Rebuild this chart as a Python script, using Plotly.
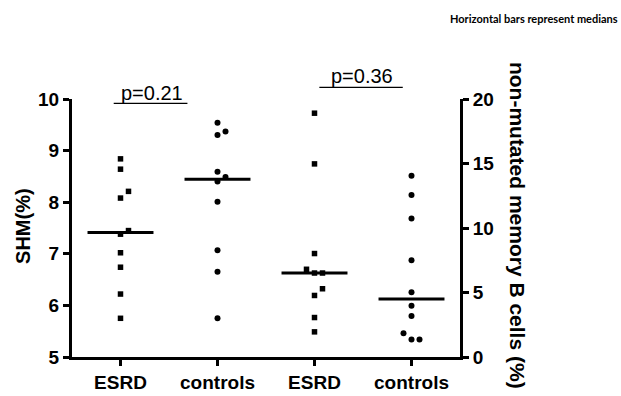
import numpy as np
import plotly.graph_objects as go

# ---------------- data ----------------
categories = ["ESRD", "controls", "ESRD", "controls"]

shm_esrd = [8.84, 8.64, 8.21, 8.08, 7.45, 7.38, 7.02, 6.74, 6.22, 5.75]
shm_controls = [9.54, 9.37, 9.30, 8.59, 8.49, 8.40, 8.01, 7.07, 6.65, 5.75]
nonmut_esrd = [18.9, 14.97, 8.02, 6.80, 6.51, 6.51, 5.29, 4.77, 3.06, 1.95]
nonmut_controls = [14.06, 12.55, 10.74, 7.50, 5.01, 3.97, 3.17, 1.84, 1.35, 1.35]

p_labels = ["p=0.21", "p=0.36"]
note_text = "Horizontal bars represent medians"
left_title = "SHM(%)"
right_title = "non-mutated memory B cells (%)"

# ---------------- layout constants ----------------
W, H = 621, 396
ML, MR, MT, MB = 72, 161, 99, 39
plot_w = W - ML - MR
plot_h = H - MT - MB
X_RANGE = [-0.5, 3.5]
Y1_RANGE = [5, 10]
Y2_RANGE = [0, 20]
FONT = "Liberation Sans"


def swarm(values, yspan):
    """Greedy beeswarm: offsets (in category units) so dots do not overlap."""
    px_x = plot_w / (X_RANGE[1] - X_RANGE[0])
    px_y = plot_h / yspan
    step, mind = 8.0, 7.0
    order = np.argsort(values)
    placed = []
    offs = np.zeros(len(values))
    for i in order:
        yi = values[i] * px_y
        for c in [0, step, -step, 2 * step, -2 * step]:
            ok = all((c - px) ** 2 + (yi - py) ** 2 >= mind ** 2 for px, py in placed)
            if ok:
                placed.append((c, yi))
                offs[i] = c / px_x
                break
    return offs


groups = [
    (0, shm_esrd, "square", "y", Y1_RANGE),
    (1, shm_controls, "circle", "y", Y1_RANGE),
    (2, nonmut_esrd, "square", "y2", Y2_RANGE),
    (3, nonmut_controls, "circle", "y2", Y2_RANGE),
]

fig = go.Figure()
for idx, vals, sym, yax, rng in groups:
    vals = np.array(vals, dtype=float)
    offs = swarm(vals, rng[1] - rng[0])
    fig.add_trace(go.Scatter(
        x=idx + offs, y=vals, mode="markers", yaxis=yax,
        marker=dict(symbol=sym, size=5.5 if sym == "square" else 6, color="black",
                    line=dict(width=0)),
        showlegend=False, hoverinfo="y", cliponaxis=False,
    ))
    med = float(np.median(vals))
    fig.add_trace(go.Scatter(
        x=[idx - 0.34, idx + 0.34], y=[med, med], mode="lines", yaxis=yax,
        line=dict(color="black", width=3), showlegend=False, hoverinfo="skip",
    ))


def xpaper(v):
    return (v - X_RANGE[0]) / (X_RANGE[1] - X_RANGE[0])


# p-value bars and labels
p_bars = [(-0.07, 0.69, 0.983, 1.024), (2.05, 2.91, 1.045, 1.090)]
for (a, b, ly, ty), lab in zip(p_bars, p_labels):
    fig.add_shape(type="line", xref="paper", yref="paper",
                  x0=xpaper(a), x1=xpaper(b), y0=ly, y1=ly,
                  line=dict(color="black", width=1.3))
    fig.add_annotation(x=(a + b) / 2 + 0.01, xref="x", y=ty, yref="paper",
                       text=lab, showarrow=False, xanchor="center", yanchor="middle",
                       font=dict(family=FONT, size=20, color="black"))

# axis titles
fig.add_annotation(x=0, xref="paper", y=0.508, yref="paper", text=left_title,
                   showarrow=False, textangle=-90, xanchor="center", yanchor="middle",
                   xshift=23 - ML,
                   font=dict(family=FONT, size=20, color="black", weight="bold"))
fig.add_annotation(text=right_title, x=1, xref="paper", y=0.512, yref="paper",
                   showarrow=False, textangle=90, xanchor="center", yanchor="middle",
                   xshift=517 - (ML + plot_w),
                   font=dict(family=FONT, size=21, color="black", weight="bold"))

fig.add_annotation(text=note_text, x=1, xref="paper", y=1, yref="paper",
                   xanchor="right", yanchor="middle", showarrow=False,
                   xshift=620 - (ML + plot_w), yshift=MT - 18,
                   font=dict(family="Lato, sans-serif", size=11, color="black", weight="bold"))

axis_common = dict(showline=True, linewidth=3, linecolor="black", ticks="outside",
                   ticklen=6, tickwidth=3, tickcolor="black", showgrid=False,
                   zeroline=False, automargin=False,
                   tickfont=dict(family=FONT, size=19, color="black", weight="bold"))

fig.update_layout(
    width=W, height=H, margin=dict(l=ML, r=MR, t=MT, b=MB, pad=0, autoexpand=False),
    paper_bgcolor="white", plot_bgcolor="white", showlegend=False,
    xaxis=dict(range=X_RANGE, tickvals=list(range(len(categories))),
               ticktext=categories, **axis_common),
    yaxis=dict(range=Y1_RANGE, dtick=1, **axis_common),
    yaxis2=dict(range=Y2_RANGE, dtick=5, overlaying="y", side="right", **axis_common),
)

fig.write_html("out.html")
